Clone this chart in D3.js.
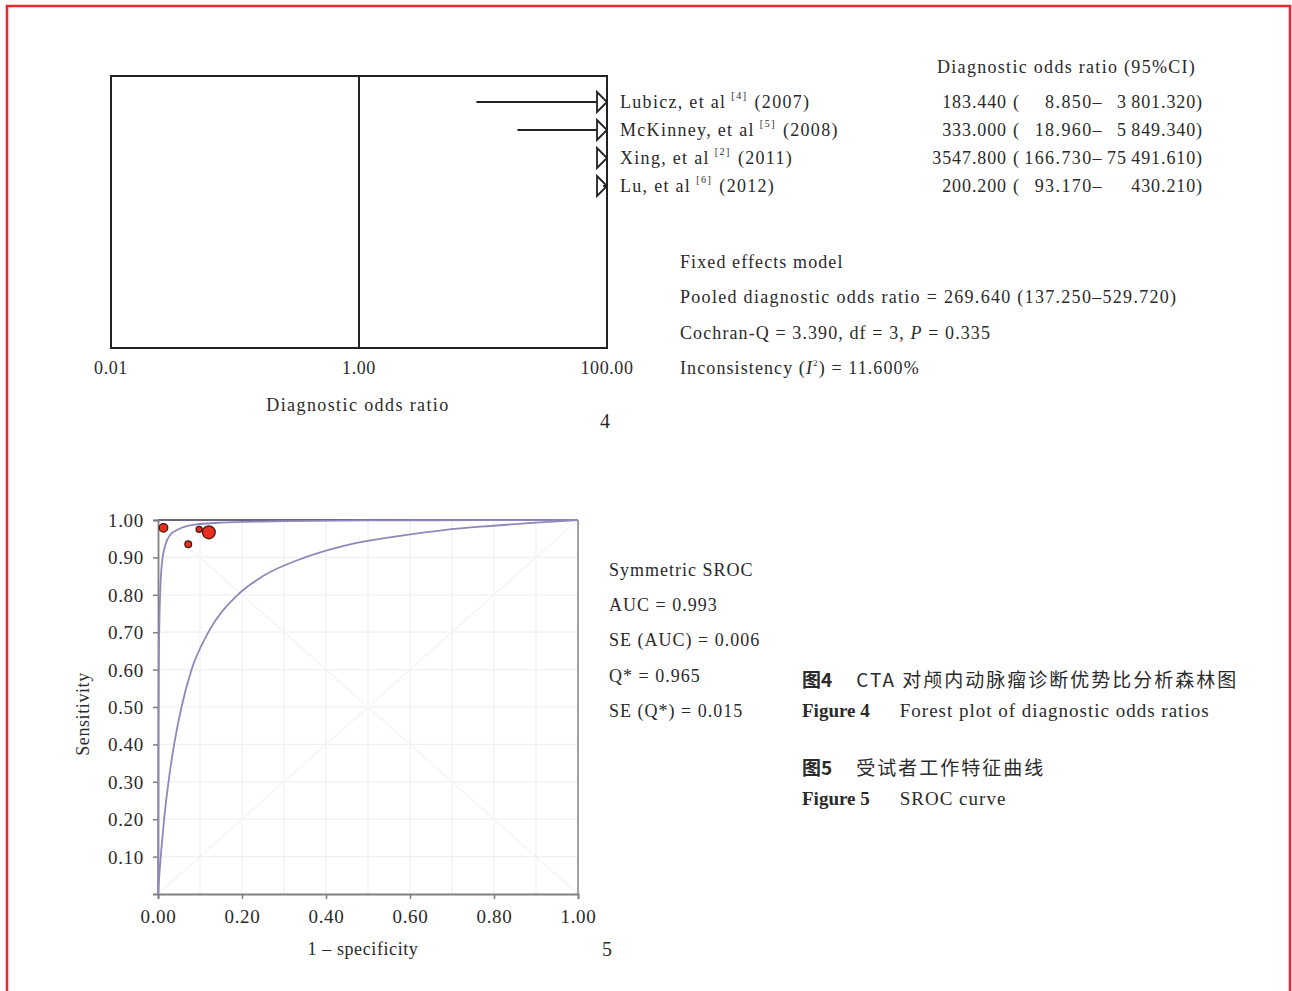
<!DOCTYPE html>
<html>
<head>
<meta charset="utf-8">
<script src="https://cdnjs.cloudflare.com/ajax/libs/d3/7.8.5/d3.min.js"></script>
<style>
  body { margin: 0; background: #fff; }
  text { font-family: "Liberation Serif", "Times New Roman", serif; fill: #2a2a2a; }
  .cjk { font-family: "Noto Sans CJK SC", sans-serif; }
</style>
</head>
<body>
<div id="chart"></div>
<script>
// ---- forest plot data (figure 4)
const studies = ['Lubicz, et al', 'McKinney, et al', 'Xing, et al', 'Lu, et al'];
const studyRefs = ['4', '5', '2', '6'];
const studyYears = ['2007', '2008', '2011', '2012'];
const dorValues = [183.440, 333.000, 3547.800, 200.200];
const ciLower = [8.850, 18.960, 166.730, 93.170];
const ciUpper = [3801.320, 5849.340, 75491.610, 430.210];
const dorTicks = [0.01, 1, 100];
const dorTickLabels = ['0.01', '1.00', '100.00'];

const pooledLines = [
  'Fixed effects model',
  'Pooled diagnostic odds ratio = 269.640 (137.250–529.720)',
  'Cochran-Q = 3.390, df = 3, P = 0.335',
  'Inconsistency (I²) = 11.600%'
];

// ---- SROC data (figure 5)
const fprTicks = [0, 0.2, 0.4, 0.6, 0.8, 1.0];
const sensTicks = [0.1, 0.2, 0.3, 0.4, 0.5, 0.6, 0.7, 0.8, 0.9, 1.0];
const gridTicks = [0.1, 0.2, 0.3, 0.4, 0.5, 0.6, 0.7, 0.8, 0.9];
const pointFpr = [0.013, 0.072, 0.098, 0.121];
const pointSens = [0.979, 0.935, 0.975, 0.967];
const pointWeight = [18, 11, 9, 40];
// inner (symmetric SROC) curve
const innerFpr = [0, 0.0005, 0.001, 0.002, 0.004, 0.007, 0.01, 0.017, 0.029, 0.05, 0.084, 0.15, 0.3, 0.5, 0.75, 1];
const innerSens = [0, 0.28, 0.45, 0.62, 0.76, 0.85, 0.89, 0.932, 0.96, 0.976, 0.987, 0.993, 0.997, 0.999, 0.9995, 1];
// outer curve
const outerFpr = [0, 0.004, 0.008, 0.015, 0.025, 0.04, 0.056, 0.08, 0.12, 0.19, 0.25, 0.35, 0.45, 0.56, 0.68, 0.79, 0.9, 1];
const outerSens = [0, 0.064, 0.12, 0.205, 0.3, 0.41, 0.5, 0.6, 0.7, 0.8, 0.85, 0.9, 0.933, 0.955, 0.973, 0.984, 0.993, 1];
const srocLines = ['Symmetric SROC', 'AUC = 0.993', 'SE (AUC) = 0.006', 'Q* = 0.965', 'SE (Q*) = 0.015'];

const W = 1292, H = 991;
const svg = d3.select('#chart').append('svg')
  .attr('width', W)
  .attr('height', H);

svg.append('rect').attr('width', W).attr('height', H).attr('fill', '#fff');

// page frame
svg.append('path')
  .attr('d', 'M7,' + H + ' V6 H1290 V' + H)
  .attr('fill', 'none')
  .attr('stroke', '#e8262c')
  .attr('stroke-width', 2.5);

// ================= forest plot =================
const fx = d3.scaleLog().domain([0.01, 100]).range([111, 607]);
const fy = d3.scalePoint().domain(studies).range([102, 186]);
const boxTop = 76, boxBottom = 348;

const forest = svg.append('g');

forest.append('rect')
  .attr('x', fx(0.01)).attr('y', boxTop)
  .attr('width', fx(100) - fx(0.01)).attr('height', boxBottom - boxTop)
  .attr('fill', 'none').attr('stroke', '#222').attr('stroke-width', 2);

forest.append('line')
  .attr('x1', fx(1)).attr('x2', fx(1))
  .attr('y1', boxTop).attr('y2', boxBottom)
  .attr('stroke', '#222').attr('stroke-width', 2);

const rows = studies.map((s, i) => ({
  name: s, ref: studyRefs[i], year: studyYears[i],
  dor: dorValues[i], lo: ciLower[i], hi: ciUpper[i]
}));

const arrowW = 10, arrowH = 10;
const clampX = v => fx(Math.max(0.01, Math.min(100, v)));

forest.selectAll('.ci')
  .data(rows)
  .enter()
  .append('line')
  .attr('class', 'ci')
  .attr('x1', d => clampX(d.lo))
  .attr('x2', d => d.hi > 100 ? fx(100) - arrowW : clampX(d.hi))
  .attr('y1', d => fy(d.name)).attr('y2', d => fy(d.name))
  .attr('stroke', '#222').attr('stroke-width', 2.2);

forest.selectAll('.arrow')
  .data(rows.filter(d => d.hi > 100))
  .enter()
  .append('path')
  .attr('class', 'arrow')
  .attr('d', d => {
    const tip = fx(100), y = fy(d.name);
    return `M${tip - arrowW},${y - arrowH} L${tip},${y} L${tip - arrowW},${y + arrowH} Z`;
  })
  .attr('fill', '#fff').attr('stroke', '#222').attr('stroke-width', 1.8);

// CI that starts inside the arrow head
forest.selectAll('.ci-inner')
  .data(rows.filter(d => clampX(d.lo) > fx(100) - arrowW))
  .enter()
  .append('line')
  .attr('x1', d => clampX(d.lo)).attr('x2', fx(100))
  .attr('y1', d => fy(d.name)).attr('y2', d => fy(d.name))
  .attr('stroke', '#222').attr('stroke-width', 2.2);

// x tick labels
forest.selectAll('.ftick')
  .data(dorTicks)
  .enter()
  .append('text')
  .attr('x', d => fx(d)).attr('y', 374)
  .attr('text-anchor', 'middle')
  .attr('font-size', 18).attr('letter-spacing', 0.6)
  .text((d, i) => dorTickLabels[i]);

forest.append('text')
  .attr('x', 358).attr('y', 411)
  .attr('text-anchor', 'middle')
  .attr('font-size', 18).attr('letter-spacing', 1.4)
  .text('Diagnostic odds ratio');

svg.append('text').attr('x', 605).attr('y', 428)
  .attr('text-anchor', 'middle').attr('font-size', 20).text('4');

// study names
const nameText = forest.selectAll('.name')
  .data(rows)
  .enter()
  .append('text')
  .attr('x', 620).attr('y', d => fy(d.name) + 6)
  .attr('font-size', 18).attr('letter-spacing', 1.3);
nameText.append('tspan').text(d => d.name);
nameText.append('tspan').attr('dx', 5).attr('dy', -9).attr('font-size', 10).attr('letter-spacing', 1.5)
  .text(d => '[' + d.ref + ']');
nameText.append('tspan').attr('dx', 7).attr('dy', 9).text(d => '(' + d.year + ')');

// value columns
const fmtNum = v => {
  const s = v.toFixed(3);
  const parts = s.split('.');
  const int = parts[0].length >= 4 ? parts[0].replace(/\B(?=(\d{3})+(?!\d))/g, '\u2009') : parts[0];
  return int + '.' + parts[1];
};

forest.append('text')
  .attr('x', 937).attr('y', 73)
  .attr('font-size', 18).attr('letter-spacing', 1.3)
  .text('Diagnostic odds ratio (95%CI)');

forest.selectAll('.dor')
  .data(rows).enter().append('text')
  .attr('x', 1007).attr('y', d => fy(d.name) + 6)
  .attr('text-anchor', 'end').attr('font-size', 18).attr('letter-spacing', 0.9)
  .text(d => d.dor.toFixed(3));

forest.selectAll('.paren')
  .data(rows).enter().append('text')
  .attr('x', 1013).attr('y', d => fy(d.name) + 6)
  .attr('font-size', 18)
  .text('(');

forest.selectAll('.lo')
  .data(rows).enter().append('text')
  .attr('x', 1103).attr('y', d => fy(d.name) + 6)
  .attr('text-anchor', 'end').attr('font-size', 18).attr('letter-spacing', 1.4)
  .text(d => fmtNum(d.lo) + '–');

forest.selectAll('.hi')
  .data(rows).enter().append('text')
  .attr('x', 1203).attr('y', d => fy(d.name) + 6)
  .attr('text-anchor', 'end').attr('font-size', 18).attr('letter-spacing', 0.9)
  .text(d => fmtNum(d.hi) + ')');

// pooled summary
const pooled = forest.selectAll('.pooled')
  .data(pooledLines).enter().append('text')
  .attr('x', 680).attr('y', (d, i) => 268 + i * 35.3)
  .attr('font-size', 18).attr('letter-spacing', 1.1);
pooled.each(function (d, i) {
  const t = d3.select(this);
  if (i === 1) t.attr('letter-spacing', 1.3);
  if (d.indexOf('P = ') >= 0) {
    const k = d.indexOf('P = ');
    t.append('tspan').text(d.slice(0, k));
    t.append('tspan').attr('font-style', 'italic').text('P');
    t.append('tspan').text(d.slice(k + 1));
  } else if (d.indexOf('I²') >= 0) {
    const k = d.indexOf('I²');
    t.append('tspan').text(d.slice(0, k));
    t.append('tspan').attr('font-style', 'italic').text('I');
    t.append('tspan').attr('font-size', 9).attr('dy', -8).text('2');
    t.append('tspan').attr('dy', 8).text(d.slice(k + 2));
  } else {
    t.text(d);
  }
});

// ================= SROC plot =================
const sx = d3.scaleLinear().domain([0, 1]).range([158, 578]);
const sy = d3.scaleLinear().domain([0, 1]).range([894, 520]);
const sroc = svg.append('g');

// grid
sroc.selectAll('.vgrid').data(gridTicks).enter().append('line')
  .attr('x1', d => sx(d)).attr('x2', d => sx(d))
  .attr('y1', sy(0)).attr('y2', sy(1))
  .attr('stroke', '#f0f0f4').attr('stroke-width', 1.2);
sroc.selectAll('.hgrid').data(gridTicks).enter().append('line')
  .attr('y1', d => sy(d)).attr('y2', d => sy(d))
  .attr('x1', sx(0)).attr('x2', sx(1))
  .attr('stroke', '#f0f0f4').attr('stroke-width', 1.2);

// faint diagonals
sroc.append('line')
  .attr('x1', sx(0)).attr('y1', sy(0)).attr('x2', sx(1)).attr('y2', sy(1))
  .attr('stroke', '#f5f5f6').attr('stroke-width', 1.5);
sroc.append('line')
  .attr('x1', sx(0)).attr('y1', sy(1)).attr('x2', sx(1)).attr('y2', sy(0))
  .attr('stroke', '#f5f5f6').attr('stroke-width', 1.5);

// frame
sroc.append('line')
  .attr('x1', sx(0)).attr('x2', sx(1)).attr('y1', sy(1)).attr('y2', sy(1))
  .attr('stroke', '#69657f').attr('stroke-width', 2);
sroc.append('line')
  .attr('x1', sx(1)).attr('x2', sx(1)).attr('y1', sy(1)).attr('y2', sy(0))
  .attr('stroke', '#8a8a8e').attr('stroke-width', 1.6);

// axes
const yAxis = d3.axisLeft(sy).tickValues(sensTicks).tickSize(5).tickPadding(9)
  .tickFormat(d3.format('.2f'));
const xAxis = d3.axisBottom(sx).tickValues(fprTicks).tickSize(5).tickPadding(9)
  .tickFormat(d3.format('.2f'));

const gy = sroc.append('g').attr('transform', `translate(${sx(0)},0)`).call(yAxis);
const gx = sroc.append('g').attr('transform', `translate(0,${sy(0)})`).call(xAxis);
[gy, gx].forEach(g => {
  g.select('.domain').attr('stroke', '#7f7f84').attr('stroke-width', 1.8);
  g.selectAll('.tick line').attr('stroke', '#7f7f84').attr('stroke-width', 1.5);
  g.selectAll('.tick text')
    .attr('font-family', '"Liberation Serif", "Times New Roman", serif')
    .attr('font-size', 19).attr('fill', '#2a2a2a').attr('letter-spacing', 0.7);
});
gy.selectAll('.tick text').attr('dy', '0.34em');
gx.selectAll('.tick text').attr('dy', '0.8em');

// curves
const curveLine = d3.line()
  .x(d => sx(d[0])).y(d => sy(d[1]))
  .curve(d3.curveMonotoneX);
sroc.append('path')
  .datum(outerFpr.map((f, i) => [f, outerSens[i]]))
  .attr('d', curveLine)
  .attr('fill', 'none').attr('stroke', '#9087bb').attr('stroke-width', 1.8);
sroc.append('path')
  .datum(innerFpr.map((f, i) => [f, innerSens[i]]))
  .attr('d', curveLine)
  .attr('fill', 'none').attr('stroke', '#9087bb').attr('stroke-width', 1.8);

// study points
const rScale = d3.scaleSqrt().domain([0, d3.max(pointWeight)]).range([0, 6.4]);
sroc.selectAll('.pt')
  .data(pointFpr.map((f, i) => ({ f, s: pointSens[i], w: pointWeight[i] })))
  .enter().append('circle')
  .attr('cx', d => sx(d.f)).attr('cy', d => sy(d.s))
  .attr('r', d => rScale(d.w))
  .attr('fill', '#e5301f').attr('stroke', '#4a1a12').attr('stroke-width', 1.3);

// axis titles
svg.append('text')
  .attr('transform', 'translate(89,714) rotate(-90)')
  .attr('text-anchor', 'middle').attr('font-size', 18).attr('letter-spacing', 0.6)
  .text('Sensitivity');
svg.append('text')
  .attr('x', 363).attr('y', 955)
  .attr('text-anchor', 'middle').attr('font-size', 18).attr('letter-spacing', 0.6)
  .text('1 – specificity');
svg.append('text').attr('x', 607).attr('y', 956)
  .attr('text-anchor', 'middle').attr('font-size', 20).text('5');

// SROC summary
sroc.selectAll('.stat')
  .data(srocLines).enter().append('text')
  .attr('x', 609).attr('y', (d, i) => 576 + i * 35.2)
  .attr('font-size', 18).attr('letter-spacing', 1)
  .text(d => d);

// ================= captions =================
const cap = svg.append('g');
function caption(y, label, body, cjk) {
  const t = cap.append('text').attr('x', 802).attr('y', y).attr('font-size', 19);
  t.append('tspan')
    .attr('font-weight', 'bold')
    .attr('class', cjk ? 'cjk' : null)
    .attr('font-family', cjk ? '"Noto Sans CJK SC", sans-serif' : null)
    .text(label);
  t.append('tspan').attr('dx', cjk ? 24 : 30)
    .attr('font-family', cjk ? '"Noto Sans CJK SC", sans-serif' : null)
    .attr('letter-spacing', cjk ? 2 : 1)
    .text(body);
}
caption(687, '图4', 'CTA 对颅内动脉瘤诊断优势比分析森林图', true);
caption(717, 'Figure 4', 'Forest plot of diagnostic odds ratios', false);
caption(775, '图5', '受试者工作特征曲线', true);
caption(805, 'Figure 5', 'SROC curve', false);
</script>
</body>
</html>
